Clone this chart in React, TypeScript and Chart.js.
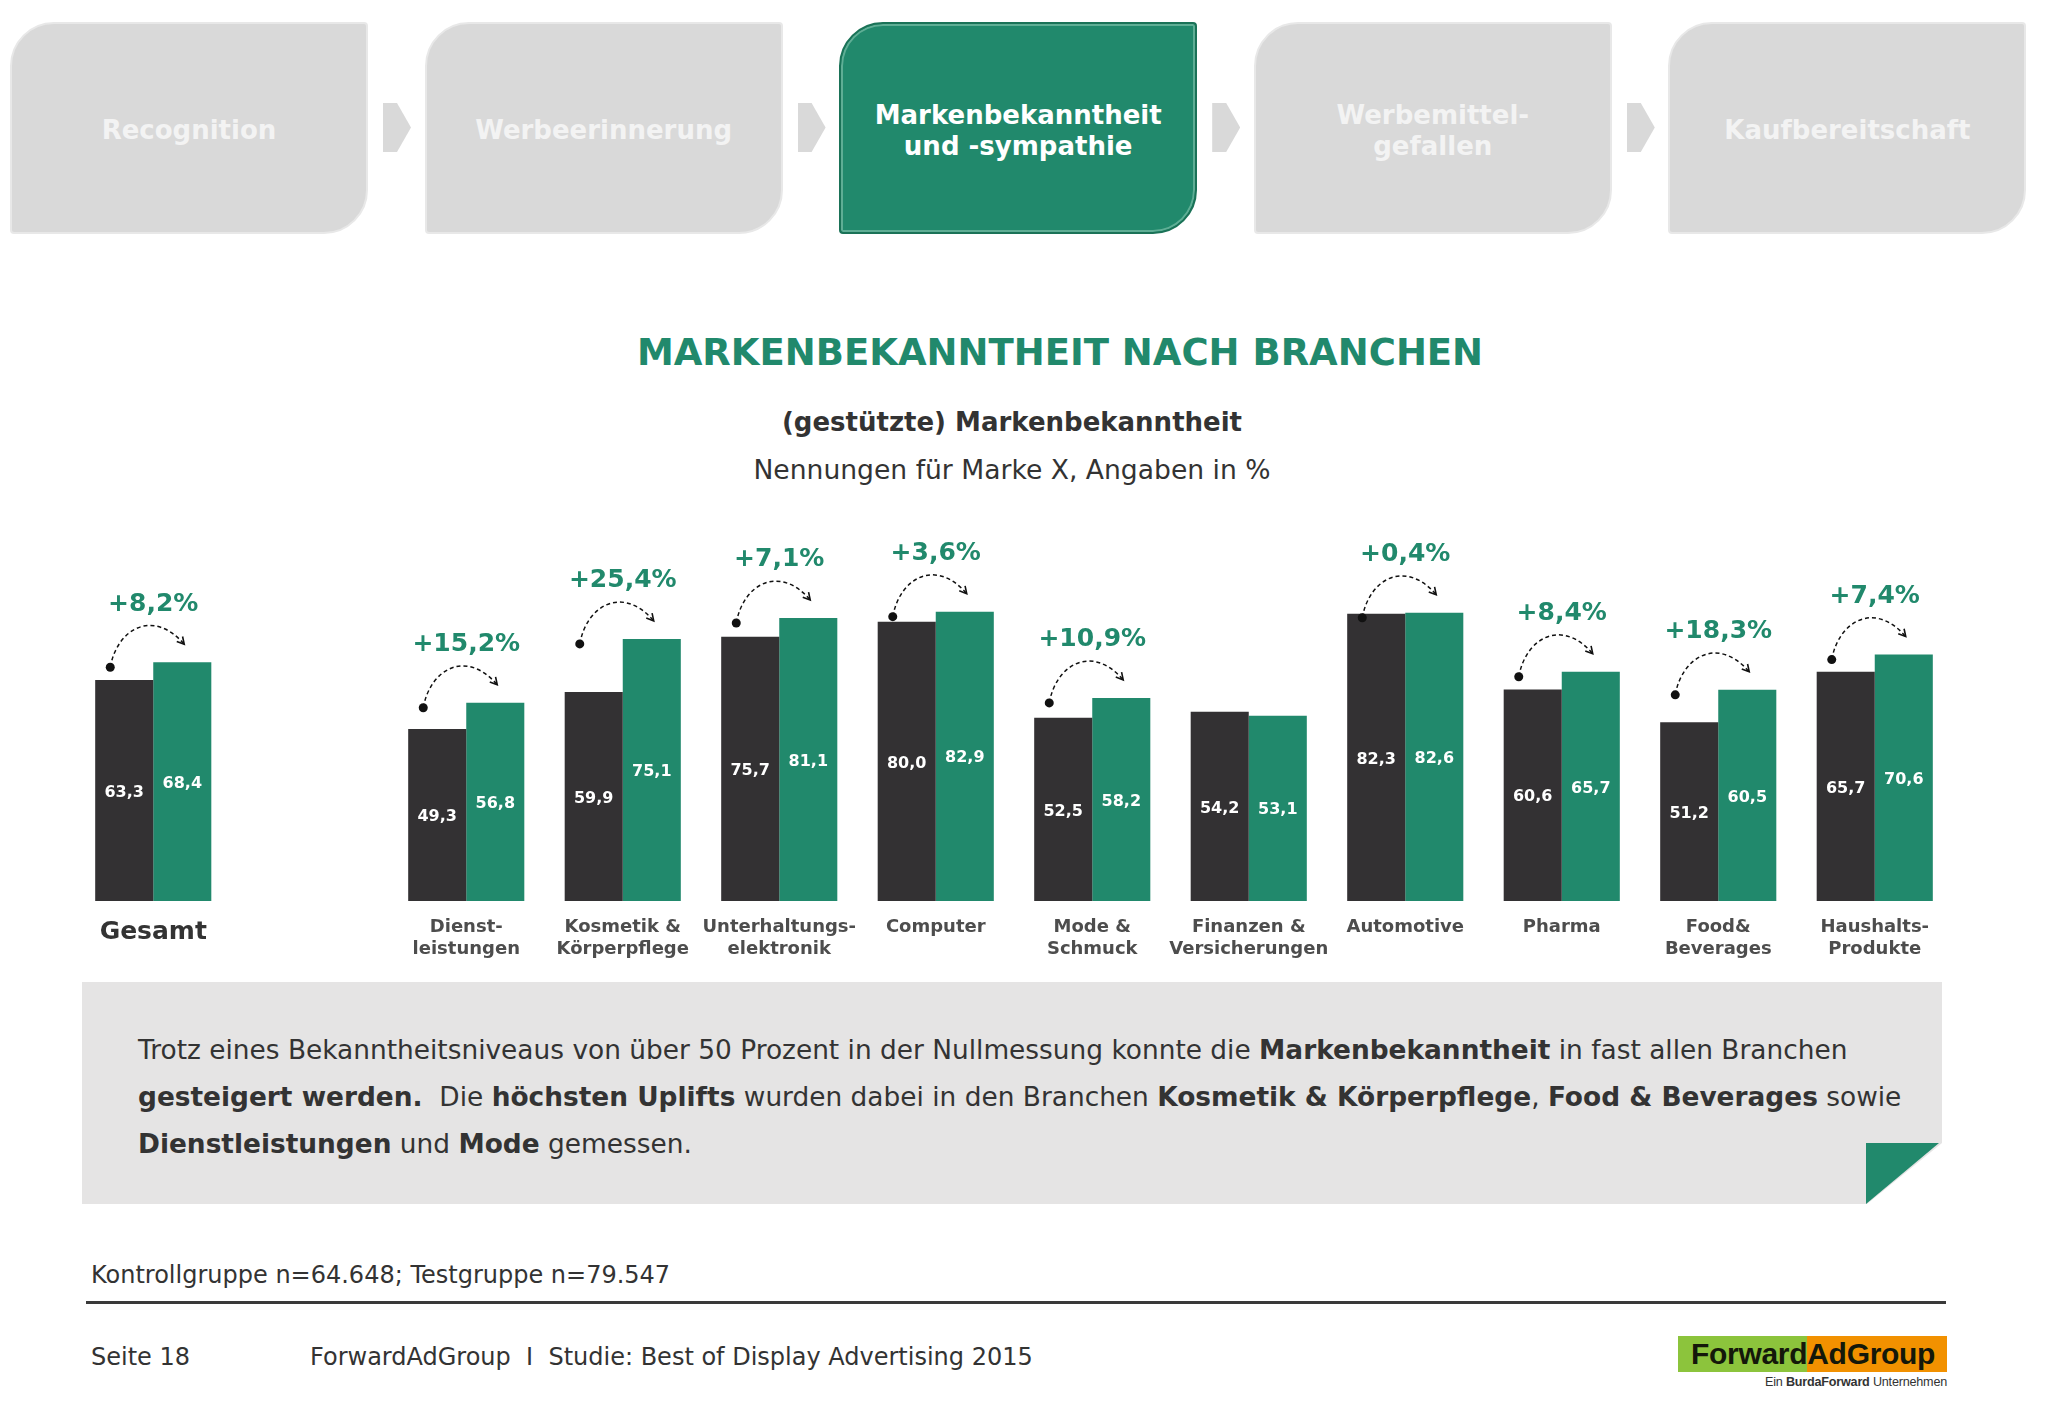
import React, { useEffect, useRef } from "react";
import { Chart, registerables } from "chart.js";

Chart.register(...registerables);

// ---------- data ----------
const categoryLabels: (string | string[])[] = [
  "Gesamt",
  "",
  ["Dienst-", "leistungen"],
  ["Kosmetik &", "Körperpflege"],
  ["Unterhaltungs-", "elektronik"],
  "Computer",
  ["Mode &", "Schmuck"],
  ["Finanzen &", "Versicherungen"],
  "Automotive",
  "Pharma",
  ["Food&", "Beverages"],
  ["Haushalts-", "Produkte"],
];
const kontrollgruppe: (number | null)[] = [63.3, null, 49.3, 59.9, 75.7, 80.0, 52.5, 54.2, 82.3, 60.6, 51.2, 65.7];
const testgruppe: (number | null)[] = [68.4, null, 56.8, 75.1, 81.1, 82.9, 58.2, 53.1, 82.6, 65.7, 60.5, 70.6];
const upliftLabels: (string | null)[] = [
  "+8,2%", null, "+15,2%", "+25,4%", "+7,1%", "+3,6%", "+10,9%", null, "+0,4%", "+8,4%", "+18,3%", "+7,4%",
];
const yAxisMax = 100;

const processSteps = ["Recognition", "Werbeerinnerung", "Markenbekanntheit\nund -sympathie", "Werbemittel-\ngefallen", "Kaufbereitschaft"];
const activeStep = 2;

// ---------- styles ----------
const GREEN = "#21896c";
const DARK = "#333133";
const FONT = "'DejaVu Sans', Verdana, sans-serif";

const fmt = (v: number) => v.toFixed(1).replace(".", ",");

const annotationPlugin = {
  id: "uplifts",
  afterDatasetsDraw(chart: any) {
    const ctx = chart.ctx as CanvasRenderingContext2D;
    const metas = [chart.getDatasetMeta(0), chart.getDatasetMeta(1)];
    ctx.save();
    // values inside bars
    metas.forEach((meta, di) => {
      meta.data.forEach((bar: any, i: number) => {
        const v = chart.data.datasets[di].data[i];
        if (v == null) return;
        const p = bar.getProps(["x", "y", "base"], true);
        ctx.fillStyle = "#ffffff";
        ctx.font = `bold 16px ${FONT}`;
        ctx.textAlign = "center";
        ctx.textBaseline = "middle";
        ctx.fillText(fmt(v), p.x, (p.y + p.base) / 2 + 2);
      });
    });
    // uplift labels + arrows
    upliftLabels.forEach((lab, i) => {
      if (!lab) return;
      const b0 = metas[0].data[i].getProps(["x", "y"], true);
      const b1 = metas[1].data[i].getProps(["x", "y"], true);
      const cx = (b0.x + b1.x) / 2;
      const top = Math.min(b0.y, b1.y);
      const ly = top - 58;
      ctx.fillStyle = GREEN;
      ctx.font = `bold 25px ${FONT}`;
      ctx.textAlign = "center";
      ctx.textBaseline = "middle";
      ctx.fillText(lab, cx, ly);

      const p0 = [cx - 43, ly + 63];
      const p1 = [cx - 36, ly + 24];
      const p2 = [cx, ly + 4];
      const p3 = [cx + 31, ly + 40];
      ctx.strokeStyle = "#111";
      ctx.lineWidth = 1.5;
      ctx.setLineDash([4, 3]);
      ctx.beginPath();
      ctx.moveTo(p0[0], p0[1]);
      ctx.bezierCurveTo(p1[0], p1[1], p2[0], p2[1], p3[0], p3[1]);
      ctx.stroke();
      ctx.setLineDash([]);
      // arrow head
      const ang = Math.atan2(p3[1] - p2[1], p3[0] - p2[0]);
      const len = 8;
      ctx.lineWidth = 1.6;
      ctx.beginPath();
      ctx.moveTo(p3[0] - len * Math.cos(ang - 0.5), p3[1] - len * Math.sin(ang - 0.5));
      ctx.lineTo(p3[0], p3[1]);
      ctx.lineTo(p3[0] - len * Math.cos(ang + 0.5), p3[1] - len * Math.sin(ang + 0.5));
      ctx.stroke();
      // dot
      ctx.fillStyle = "#111";
      ctx.beginPath();
      ctx.arc(p0[0], p0[1], 4.5, 0, Math.PI * 2);
      ctx.fill();
    });
    ctx.restore();
  },
};

function BarChart() {
  const ref = useRef<HTMLCanvasElement | null>(null);
  useEffect(() => {
    if (!ref.current) return;
    const chart = new Chart(ref.current, {
      type: "bar",
      data: {
        labels: categoryLabels as any,
        datasets: [
          {
            label: "Kontrollgruppe",
            data: kontrollgruppe as any,
            backgroundColor: DARK,
            borderWidth: 0,
            categoryPercentage: 0.742,
            barPercentage: 1.0,
          },
          {
            label: "Testgruppe",
            data: testgruppe as any,
            backgroundColor: GREEN,
            borderWidth: 0,
            categoryPercentage: 0.742,
            barPercentage: 1.0,
          },
        ],
      },
      options: {
        animation: false,
        responsive: true,
        maintainAspectRatio: false,
        events: [],
        layout: { padding: { top: 52, left: 75, right: 95, bottom: 0 } },
        plugins: { legend: { display: false }, tooltip: { enabled: false } },
        scales: {
          x: {
            grid: { display: false, drawTicks: false },
            border: { display: false },
            afterFit: (scale: any) => {
              scale.height = 79;
            },
            ticks: {
              autoSkip: false,
              maxRotation: 0,
              minRotation: 0,
              padding: 16,
              color: (c: any) => (c.index === 0 ? "#333333" : "#4d4d4d"),
              font: (c: any) =>
                c.index === 0
                  ? { family: FONT, size: 25, weight: "bold", lineHeight: 1.2 }
                  : { family: FONT, size: 18, weight: "bold", lineHeight: 1.2 },
            },
          },
          y: { display: false, min: 0, max: yAxisMax },
        },
      } as any,
      plugins: [annotationPlugin],
    });
    return () => chart.destroy();
  }, []);
  return (
    <div style={{ position: "absolute", left: 0, top: 500, width: 2048, height: 480 }}>
      <canvas ref={ref} />
    </div>
  );
}

function ProcessBar() {
  const left0 = 10;
  const step = 414.6;
  return (
    <>
      {processSteps.map((s, i) => {
        const active = i === activeStep;
        return (
          <div
            key={i}
            style={{
              position: "absolute",
              left: left0 + i * step,
              top: 22,
              width: 358,
              height: 212,
              boxSizing: "border-box",
              paddingTop: 5,
              background: active ? GREEN : "#d9d9d9",
              border: active ? "2px solid #1a7257" : "2px solid #e8e8e8",
              boxShadow: active ? "inset 0 0 0 2px #5fae95" : "none",
              borderRadius: "44px 4px 44px 4px",
              display: "flex",
              alignItems: "center",
              justifyContent: "center",
              textAlign: "center",
              color: active ? "#ffffff" : "#f3f3f3",
              fontFamily: FONT,
              fontWeight: "bold",
              fontSize: 26,
              lineHeight: "31px",
              whiteSpace: "pre-line",
            }}
          >
            {s}
          </div>
        );
      })}
      {[0, 1, 2, 3].map((i) => (
        <div
          key={"a" + i}
          style={{
            position: "absolute",
            left: 383 + i * step,
            top: 103,
            width: 28,
            height: 49,
            background: "#d9d9d9",
            clipPath: "polygon(0 0, 50% 0, 100% 50%, 50% 100%, 0 100%)",
          }}
        />
      ))}
    </>
  );
}

export default function App() {
  useEffect(() => {
    document.body.style.margin = "0";
    document.body.style.overflow = "hidden";
  }, []);
  const txt: React.CSSProperties = { position: "absolute", fontFamily: FONT, color: "#333", whiteSpace: "nowrap" };
  return (
    <div style={{ position: "absolute", left: 0, top: 0, width: 2048, height: 1418, background: "#fff", overflow: "hidden" }}>
      <ProcessBar />
      <div style={{ ...txt, left: 460, top: 331, width: 1200, textAlign: "center", color: GREEN, fontWeight: "bold", fontSize: 37, lineHeight: "44px" }}>
        MARKENBEKANNTHEIT NACH BRANCHEN
      </div>
      <div style={{ ...txt, left: 412, top: 407, width: 1200, textAlign: "center", fontWeight: "bold", fontSize: 26, lineHeight: "30px" }}>
        (gestützte) Markenbekanntheit
      </div>
      <div style={{ ...txt, left: 412, top: 455, width: 1200, textAlign: "center", fontSize: 26.6, lineHeight: "30px" }}>
        Nennungen für Marke X, Angaben in %
      </div>

      <BarChart />

      {/* note box */}
      <div
        style={{
          position: "absolute",
          left: 82,
          top: 982,
          width: 1860,
          height: 222,
          background: "#e5e4e4",
          clipPath: "polygon(0 0, 100% 0, 100% 161px, 1785px 100%, 0 100%)",
        }}
      />
      <div
        style={{
          position: "absolute",
          left: 1866,
          top: 1143,
          width: 73,
          height: 61,
          background: GREEN,
          clipPath: "polygon(0 0, 100% 0, 0 100%)",
        }}
      />
      <div style={{ ...txt, left: 138, top: 1026, fontSize: 26.4, lineHeight: "47px", color: "#333" }}>
        Trotz eines Bekanntheitsniveaus von über 50 Prozent in der Nullmessung konnte die <b>Markenbekanntheit</b> in fast allen Branchen
        <br />
        <b>gesteigert werden.</b>&nbsp; Die <b>höchsten Uplifts</b> wurden dabei in den Branchen <b>Kosmetik &amp; Körperpflege</b>, <b>Food &amp; Beverages</b> sowie
        <br />
        <b>Dienstleistungen</b> und <b>Mode</b> gemessen.
      </div>

      <div style={{ ...txt, left: 91, top: 1261, fontSize: 24, lineHeight: "28px" }}>Kontrollgruppe n=64.648; Testgruppe n=79.547</div>
      <div style={{ position: "absolute", left: 86, top: 1301, width: 1860, height: 3, background: "#3a3a3a" }} />
      <div style={{ ...txt, left: 91, top: 1343, fontSize: 24, lineHeight: "28px" }}>Seite 18</div>
      <div style={{ ...txt, left: 310, top: 1343, fontSize: 24, lineHeight: "28px" }}>
        ForwardAdGroup&nbsp;&nbsp;I&nbsp;&nbsp;Studie: Best of Display Advertising 2015
      </div>

      {/* logo */}
      <div style={{ position: "absolute", left: 1678, top: 1336, width: 129, height: 36, background: "#8cc43c" }} />
      <div style={{ position: "absolute", left: 1807, top: 1336, width: 140, height: 36, background: "#f29100" }} />
      <div
        style={{
          ...txt,
          left: 1691,
          top: 1336,
          fontFamily: "'Liberation Sans', Arial, sans-serif",
          fontWeight: "bold",
          fontSize: 30,
          lineHeight: "36px",
          letterSpacing: "-0.3px",
          color: "#14180a",
        }}
      >
        ForwardAdGroup
      </div>
      <div
        style={{
          ...txt,
          left: 1647,
          width: 300,
          textAlign: "right",
          top: 1374,
          fontFamily: "'Liberation Sans', Arial, sans-serif",
          fontSize: 12.6,
          lineHeight: "16px",
          letterSpacing: "-0.2px",
        }}
      >
        Ein <b>BurdaForward</b> Unternehmen
      </div>
    </div>
  );
}
